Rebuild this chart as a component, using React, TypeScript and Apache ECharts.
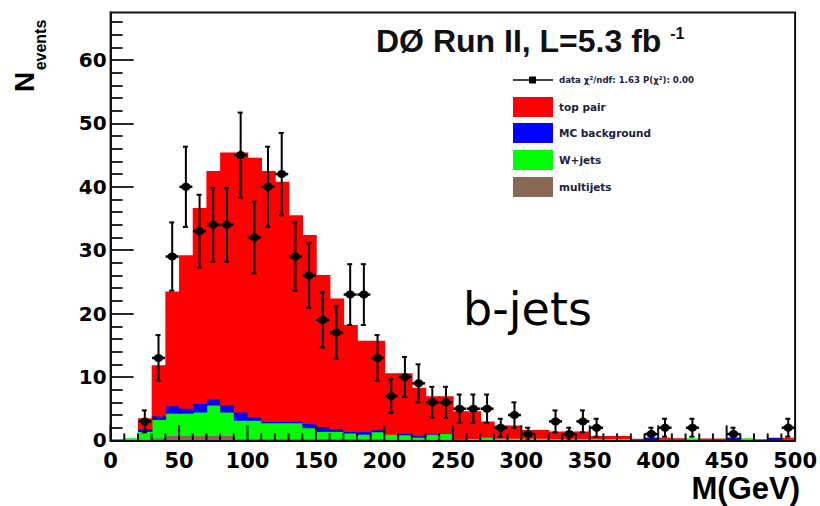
import { useEffect, useRef } from "react";
import * as echarts from "echarts";

// histogram bins: low edges (GeV), width 10 GeV
const BIN_WIDTH = 10;
const binLow = [
  0, 10, 20, 30, 40, 50, 60, 70, 80, 90,
  100, 110, 120, 130, 140, 150, 160, 170, 180, 190,
  200, 210, 220, 230, 240, 250, 260, 270, 280, 290,
  300, 310, 320, 330, 340, 350, 360, 370, 380, 390,
  400, 410, 420, 430, 440, 450, 460, 470, 480, 490,
];

// observed events (data)
const observed = [
  0, 0, 3, 13, 29, 40, 33, 34, 34, 45,
  32, 40, 42, 29, 26, 19, 17, 23, 23, 13,
  7, 10, 9, 6, 6, 5, 5, 5, 2, 4,
  1, 0, 3, 1, 3, 2, 0, 0, 0, 1,
  2, 0, 2, 0, 0, 1, 0, 0, 0, 2,
];

// stacked predictions (per-component contributions)
const multijets = [
  0, 0, 0.2, 0.4, 0.8, 0.8, 0.8, 0.8, 0.8, 0.3,
  0.3, 0.3, 0.3, 0.3, 0.3, 0.3, 0.3, 0.3, 0.3, 0.3,
  0.2, 0.2, 0.2, 0.2, 0.2, 0.15, 0.15, 0.15, 0.15, 0.15,
  0.15, 0.15, 0.1, 0.1, 0.1, 0.1, 0.1, 0.1, 0.15, 0.1,
  0.1, 0.1, 0.1, 0.1, 0.1, 0.1, 0.1, 0.2, 0.1, 0.1,
];
const wJets = [
  0, 0.33, 1.2, 2.9, 3.5, 3.5, 3.7, 4.8, 3.7, 2.9,
  2.9, 2.5, 2.5, 2.5, 1.7, 1.1, 1.1, 0.9, 0.7, 1.07,
  0.8, 0.7, 0.3, 0.8, 0.9, 0.05, 0.15, 0.35, 0.2, 0.2,
  0.2, 0.2, 0.2, 0.2, 0.2, 0.2, 0.2, 0.2, 0, 0,
  0.1, 0, 0.25, 0, 0, 0, 0.25, 0, 0, 0.1,
];
const mcBackground = [
  0, 0, 0.4, 0.55, 1.2, 0.8, 1.35, 1.0, 1.1, 1.3,
  0.5, 0.2, 0.2, 0.2, 0.7, 0.8, 0.5, 0.2, 0.4, 0.33,
  0, 0.2, 0.3, 0.05, 0.05, 0, 0, 0, 0, 0,
  0, 0, 0, 0, 0, 0, 0, 0, 0, 0.35,
  0, 0, 0, 0, 0, 0.35, 0, 0, 0.3, 0,
];
const topPair = [
  0, 0, 1.7, 8.0, 18.0, 24.1, 30.8, 35.9, 39.8, 40.9,
  40.9, 39.5, 37.8, 32.5, 29.7, 23.9, 20.5, 16.8, 14.3, 14.0,
  9.6, 9.5, 7.5, 5.9, 5.8, 4.4, 4.3, 2.5, 2.0, 2.0,
  1.3, 1.3, 1.1, 1.1, 1.1, 0.4, 0.4, 0.4, 0.1, 0,
  0.2, 0.25, 0, 0.2, 0.2, 0, 0, 0, 0, 0.2,
];

// axis ticks
const xMajorTicks = [0, 50, 100, 150, 200, 250, 300, 350, 400, 450, 500];
const xMinorTicks = [
  10, 20, 30, 40, 60, 70, 80, 90, 110, 120, 130, 140, 160, 170, 180, 190,
  210, 220, 230, 240, 260, 270, 280, 290, 310, 320, 330, 340, 360, 370, 380, 390,
  410, 420, 430, 440, 460, 470, 480, 490,
];
const yMajorTicks = [0, 10, 20, 30, 40, 50, 60];
const yMinorTicks = [
  2, 4, 6, 8, 12, 14, 16, 18, 22, 24, 26, 28, 32, 34, 36, 38,
  42, 44, 46, 48, 52, 54, 56, 58, 62, 64, 66,
];

const legendLabels = ["top pair", "MC background", "W+jets", "multijets"];
const dataLegendLabel = "data χ²/ndf: 1.63 P(χ²): 0.00";

const layers = [
  { name: "multijets", values: multijets, color: "#8a6654" },
  { name: "W+jets", values: wJets, color: "#00ff00" },
  { name: "MC background", values: mcBackground, color: "#0000ff" },
  { name: "top pair", values: topPair, color: "#ff0000" },
];
const legendColors = ["#ff0000", "#0000ff", "#00ff00", "#8a6654"];

export default function App() {
  const ref = useRef<HTMLDivElement>(null);

  useEffect(() => {
    const chart = echarts.init(ref.current as HTMLDivElement, null, { renderer: "svg" });

    const cum = binLow.map(() => 0);
    const stackSeries = layers.map((layer) => {
      const data = binLow.map((lo, i) => {
        const base = cum[i];
        cum[i] += layer.values[i];
        return [lo, lo + BIN_WIDTH, base, cum[i]];
      });
      return {
        type: "custom",
        name: layer.name,
        z: 1,
        clip: true,
        silent: true,
        data,
        encode: { x: [0, 1], y: [2, 3] },
        renderItem: (_params: any, api: any) => {
          const lo = api.value(0);
          const hi = api.value(1);
          const b = api.value(2);
          const t = api.value(3);
          if (!(t > b)) return { type: "group", children: [] };
          const p1 = api.coord([lo, t]);
          const p2 = api.coord([hi, b]);
          const extraDown = b > 0 ? 0.6 : 0;
          return {
            type: "rect",
            shape: {
              x: p1[0],
              y: p1[1],
              width: p2[0] - p1[0] + 0.8,
              height: p2[1] - p1[1] + extraDown,
            },
            style: { fill: layer.color },
          };
        },
      };
    });

    // x-axis tick marks drawn over the histogram (ROOT style, inside the frame)
    const tickSeries = {
      type: "custom",
      name: "xticks",
      z: 2,
      clip: false,
      silent: true,
      data: [...xMajorTicks.map((v) => [v, 15]), ...xMinorTicks.map((v) => [v, 7])],
      encode: { x: 0 },
      renderItem: (_params: any, api: any) => {
        const c = api.coord([api.value(0), 0]);
        const len = api.value(1);
        return {
          type: "line",
          shape: { x1: c[0], y1: c[1], x2: c[0], y2: c[1] - len },
          style: { stroke: "#111", lineWidth: 2 },
        };
      },
    };

    const points = binLow
      .map((lo, i) => [lo + BIN_WIDTH / 2, observed[i], Math.sqrt(observed[i])])
      .filter((d) => d[1] > 0);

    const dataSeries = {
      type: "custom",
      name: "data",
      z: 3,
      clip: false,
      data: points,
      encode: { x: 0, y: 1 },
      renderItem: (_params: any, api: any) => {
        const x = api.value(0);
        const v = api.value(1);
        const e = api.value(2);
        const c = api.coord([x, v]);
        const t = api.coord([x, v + e]);
        const b = api.coord([x, Math.max(0, v - e)]);
        const st = { stroke: "#000", lineWidth: 2 };
        return {
          type: "group",
          children: [
            { type: "line", shape: { x1: c[0], y1: t[1], x2: c[0], y2: b[1] }, style: st },
            { type: "line", shape: { x1: c[0] - 3, y1: t[1], x2: c[0] + 2, y2: t[1] }, style: st },
            { type: "line", shape: { x1: c[0] - 3, y1: b[1], x2: c[0] + 2, y2: b[1] }, style: st },
            { type: "line", shape: { x1: c[0] - 6.5, y1: c[1], x2: c[0] + 6.5, y2: c[1] }, style: { stroke: "#000", lineWidth: 2.5 } },
            { type: "ellipse", shape: { cx: c[0], cy: c[1], rx: 4.8, ry: 4 }, style: { fill: "#000" } },
          ],
        };
      },
    };

    const legendFont = { fontFamily: "DejaVu Sans", fontWeight: "bold" as const, fill: "#202040", verticalAlign: "middle" as const };
    const legendGraphics: any[] = [
      { type: "line", shape: { x1: 513, y1: 80, x2: 553, y2: 80 }, style: { stroke: "#000", lineWidth: 1.5 } },
      { type: "rect", shape: { x: 529, y: 76.5, width: 7, height: 7 }, style: { fill: "#000" } },
      {
        type: "text",
        x: 559,
        y: 80,
        style: { text: dataLegendLabel, fontSize: 8.6, ...legendFont },
      },
    ];
    const legendY = [97, 123, 150, 177];
    legendLabels.forEach((lab, i) => {
      legendGraphics.push({
        type: "rect",
        shape: { x: 513, y: legendY[i], width: 40, height: 20 },
        style: { fill: legendColors[i] },
      });
      legendGraphics.push({
        type: "text",
        x: 559,
        y: legendY[i] + 10,
        style: { text: lab, fontSize: 10.5, ...legendFont },
      });
    });

    const axisFont = { fontFamily: "DejaVu Sans", fontWeight: "bold" as const, color: "#000" };

    chart.setOption({
      animation: false,
      backgroundColor: "#fff",
      grid: {
        left: 110.6,
        right: 20,
        top: 12.45,
        bottom: 65.6,
        show: true,
        borderColor: "#111",
        borderWidth: 2,
        backgroundColor: "transparent",
      },
      xAxis: {
        type: "value",
        min: 0,
        max: 500,
        interval: 50,
        position: "bottom",
        z: 8,
        axisLine: { show: true, lineStyle: { color: "#111", width: 2 } },
        axisTick: { show: false },
        splitLine: { show: false },
        axisLabel: { margin: 10, fontSize: 21, customValues: xMajorTicks, ...axisFont },
      },
      yAxis: [
        {
          type: "value",
          min: 0,
          max: 67.5,
          z: 8,
          axisLine: { show: true, lineStyle: { color: "#111", width: 2 } },
          axisTick: {
            show: true,
            inside: true,
            length: 23,
            customValues: yMajorTicks,
            lineStyle: { color: "#111", width: 1.8 },
          },
          splitLine: { show: false },
          axisLabel: { margin: 4, fontSize: 20, customValues: yMajorTicks, ...axisFont },
        },
        {
          type: "value",
          min: 0,
          max: 67.5,
          z: 8,
          position: "left",
          axisLine: { show: false },
          axisTick: {
            show: true,
            inside: true,
            length: 12,
            customValues: yMinorTicks,
            lineStyle: { color: "#111", width: 1.8 },
          },
          splitLine: { show: false },
          axisLabel: { show: false },
        },
      ],
      series: [...stackSeries, tickSeries, dataSeries],
      graphic: [
        {
          type: "text",
          x: 376,
          y: 41,
          style: {
            text: "{m|DØ Run II, L=5.3 fb }{s|-1}",
            verticalAlign: "middle",
            rich: {
              m: { fontSize: 32, fontWeight: "bold", fontFamily: "Liberation Sans", fill: "#111", verticalAlign: "bottom" },
              s: { fontSize: 16, fontWeight: "bold", fontFamily: "Liberation Sans", fill: "#111", verticalAlign: "top" },
            },
          },
        },
        {
          type: "text",
          x: 463,
          y: 309,
          style: {
            text: "b-jets",
            fontSize: 46,
            fontFamily: "DejaVu Sans",
            fill: "#000",
            verticalAlign: "middle",
          },
        },
        {
          type: "text",
          x: 24,
          y: 82,
          rotation: Math.PI / 2,
          style: {
            text: "N",
            fontSize: 28,
            fontWeight: "bold",
            fontFamily: "Liberation Sans",
            fill: "#000",
            align: "center",
            verticalAlign: "middle",
          },
        },
        {
          type: "text",
          x: 40,
          y: 45,
          rotation: Math.PI / 2,
          style: {
            text: "events",
            fontSize: 16,
            fontWeight: "bold",
            fontFamily: "Liberation Sans",
            fill: "#000",
            align: "center",
            verticalAlign: "middle",
          },
        },
        {
          type: "text",
          x: 800,
          y: 488,
          style: {
            text: "M(GeV)",
            fontSize: 31,
            fontWeight: "bold",
            fontFamily: "Liberation Sans",
            fill: "#000",
            align: "right",
            verticalAlign: "middle",
          },
        },
        ...legendGraphics,
      ],
    });

    return () => chart.dispose();
  }, []);

  return (
    <div
      ref={ref}
      style={{ position: "fixed", left: 0, top: 0, width: 820, height: 506, background: "#fff" }}
    />
  );
}
